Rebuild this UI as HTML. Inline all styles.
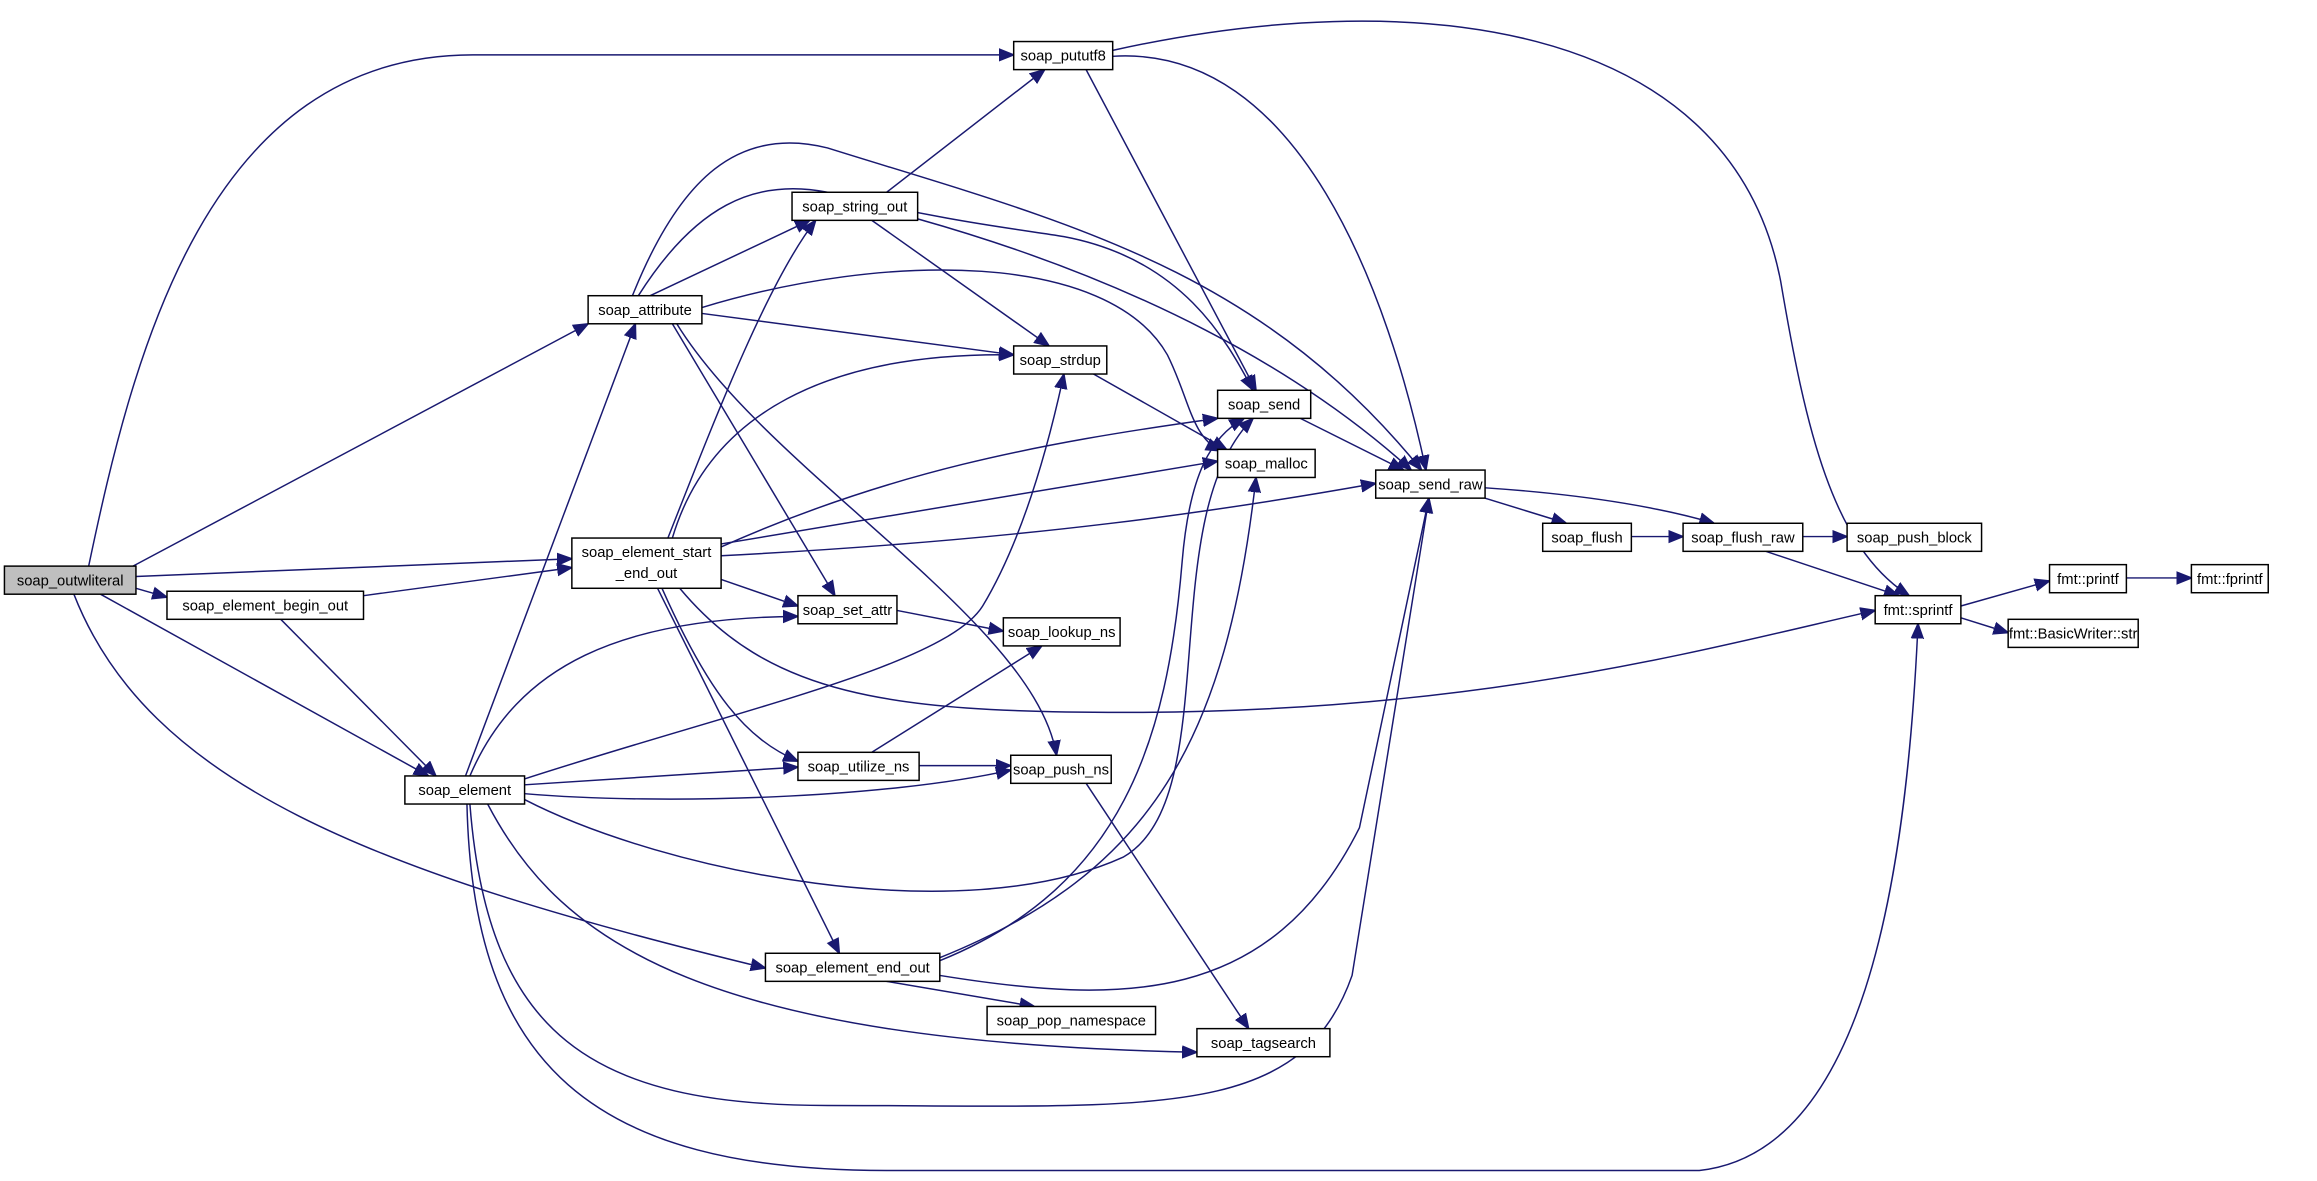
<!DOCTYPE html>
<html><head><meta charset="utf-8"><style>
html,body{margin:0;padding:0;background:#fff;}
svg{display:block;}
text{font-family:"Liberation Sans",sans-serif;font-size:10px;fill:#000;}
.e{fill:none;stroke:#191970;stroke-width:1;}
.n{fill:#fff;stroke:#000;stroke-width:1;}
</style></head><body>
<svg width="2317" height="1181" viewBox="0 0 1568 799" xmlns="http://www.w3.org/2000/svg">
<defs><marker id="a" viewBox="0 0 10 10" refX="10" refY="5" markerWidth="10" markerHeight="10" markerUnits="userSpaceOnUse" orient="auto"><path d="M0,1 L10,5 L0,9 z" fill="#191970" stroke="#191970"/></marker></defs>
<g marker-end="url(#a)">
<path class="e" d="M60,383 C90,240 140,37 320,37 L686,37"/>
<path class="e" d="M90,383 L398,219"/>
<path class="e" d="M92,390 L387,378"/>
<path class="e" d="M92,398 L113,404"/>
<path class="e" d="M68,402 L290,525"/>
<path class="e" d="M50,402 C100,530 250,590 518,655"/>
<path class="e" d="M246,403 L387,384"/>
<path class="e" d="M190,419 L295,525"/>
<path class="e" d="M452,364 C485,280 520,190 552,149"/>
<path class="e" d="M488,370 C600,320 700,300 824,283"/>
<path class="e" d="M488,368 L824,312"/>
<path class="e" d="M488,376 C700,365 830,345 931,327"/>
<path class="e" d="M455,364 C480,280 560,238 686,240"/>
<path class="e" d="M488,392 L540,410"/>
<path class="e" d="M448,398 C480,470 505,500 540,515"/>
<path class="e" d="M445,398 L568,645"/>
<path class="e" d="M460,398 C520,470 600,482 760,482 C1000,482 1150,440 1269,413"/>
<path class="e" d="M315,525 L430,219"/>
<path class="e" d="M318,525 C350,450 420,418 540,417"/>
<path class="e" d="M355,527 C500,480 640,450 665,410 C695,360 712,290 720,253"/>
<path class="e" d="M355,531 L540,519"/>
<path class="e" d="M355,537 C450,545 600,540 684,521"/>
<path class="e" d="M355,541 C450,590 650,630 760,580 C830,540 780,350 848,283"/>
<path class="e" d="M330,544 C380,640 480,705 810,712"/>
<path class="e" d="M318,544 C330,700 400,748 560,748 C780,748 880,760 915,660 L967,337"/>
<path class="e" d="M316,544 C320,720 400,792 600,792 L1150,792 C1260,780 1290,600 1298,422"/>
<path class="e" d="M440,200 L548,149"/>
<path class="e" d="M428,200 C460,120 500,85 560,100 C720,150 850,180 962,318"/>
<path class="e" d="M432,200 C470,140 510,120 560,130 C640,150 690,155 720,160 C800,175 830,230 848,264"/>
<path class="e" d="M475,208 C600,170 750,170 790,240 C805,270 806,295 826,305"/>
<path class="e" d="M475,212 L686,240"/>
<path class="e" d="M455,219 L565,403"/>
<path class="e" d="M458,219 C520,320 700,420 715,511"/>
<path class="e" d="M600,130 L707,47"/>
<path class="e" d="M590,149 L710,234"/>
<path class="e" d="M621,148 C770,190 880,250 955,318"/>
<path class="e" d="M753,38 C880,30 940,200 965,318"/>
<path class="e" d="M735,47 L850,264"/>
<path class="e" d="M753,34 C950,-10 1170,10 1205,190 C1222,290 1240,370 1292,403"/>
<path class="e" d="M740,253 L830,304"/>
<path class="e" d="M880,283 L950,318"/>
<path class="e" d="M1005,337 L1060,354"/>
<path class="e" d="M1005,330 C1080,335 1130,345 1160,354"/>
<path class="e" d="M1104,363 L1139,363"/>
<path class="e" d="M1220,363 L1250,363"/>
<path class="e" d="M1195,373 L1285,403"/>
<path class="e" d="M607,413 L679,427"/>
<path class="e" d="M590,509 L705,437"/>
<path class="e" d="M622,518 L684,518"/>
<path class="e" d="M735,530 L845,696"/>
<path class="e" d="M636,650 C760,600 790,500 800,380 C805,320 820,295 842,283"/>
<path class="e" d="M636,660 C760,680 860,680 920,560 L967,337"/>
<path class="e" d="M636,648 C780,590 830,500 850,323"/>
<path class="e" d="M600,664 L700,681"/>
<path class="e" d="M1327,410 L1387,393"/>
<path class="e" d="M1327,418 L1359,428"/>
<path class="e" d="M1439,391 L1483,391"/>
</g>
<g>
<rect x="3" y="383" width="89" height="19" fill="#bfbfbf" stroke="#000"/><text x="47.5" y="396" text-anchor="middle">soap_outwliteral</text>
<rect class="n" x="113" y="400" width="133" height="19"/><text x="179.5" y="413" text-anchor="middle">soap_element_begin_out</text>
<rect class="n" x="387" y="364" width="101" height="34"/><text x="437.5" y="377" text-anchor="middle">soap_element_start</text><text x="437.5" y="391" text-anchor="middle">_end_out</text>
<rect class="n" x="274" y="525" width="81" height="19"/><text x="314.5" y="538" text-anchor="middle">soap_element</text>
<rect class="n" x="398" y="200" width="77" height="19"/><text x="436.5" y="213" text-anchor="middle">soap_attribute</text>
<rect class="n" x="536" y="130" width="85" height="19"/><text x="578.5" y="143" text-anchor="middle">soap_string_out</text>
<rect class="n" x="686" y="28" width="67" height="19"/><text x="719.5" y="41" text-anchor="middle">soap_pututf8</text>
<rect class="n" x="686" y="234" width="63" height="19"/><text x="717.5" y="247" text-anchor="middle">soap_strdup</text>
<rect class="n" x="824" y="264" width="63" height="19"/><text x="855.5" y="277" text-anchor="middle">soap_send</text>
<rect class="n" x="824" y="304" width="66" height="19"/><text x="857" y="317" text-anchor="middle">soap_malloc</text>
<rect class="n" x="931" y="318" width="74" height="19"/><text x="968" y="331" text-anchor="middle">soap_send_raw</text>
<rect class="n" x="540" y="403" width="67" height="19"/><text x="573.5" y="416" text-anchor="middle">soap_set_attr</text>
<rect class="n" x="679" y="418" width="79" height="19"/><text x="718.5" y="431" text-anchor="middle">soap_lookup_ns</text>
<rect class="n" x="540" y="509" width="82" height="19"/><text x="581" y="522" text-anchor="middle">soap_utilize_ns</text>
<rect class="n" x="684" y="511" width="68" height="19"/><text x="718" y="524" text-anchor="middle">soap_push_ns</text>
<rect class="n" x="518" y="645" width="118" height="19"/><text x="577" y="658" text-anchor="middle">soap_element_end_out</text>
<rect class="n" x="668" y="681" width="114" height="19"/><text x="725" y="694" text-anchor="middle">soap_pop_namespace</text>
<rect class="n" x="810" y="696" width="90" height="19"/><text x="855" y="709" text-anchor="middle">soap_tagsearch</text>
<rect class="n" x="1044" y="354" width="60" height="19"/><text x="1074" y="367" text-anchor="middle">soap_flush</text>
<rect class="n" x="1139" y="354" width="81" height="19"/><text x="1179.5" y="367" text-anchor="middle">soap_flush_raw</text>
<rect class="n" x="1250" y="354" width="91" height="19"/><text x="1295.5" y="367" text-anchor="middle">soap_push_block</text>
<rect class="n" x="1269" y="403" width="58" height="19"/><text x="1298" y="416" text-anchor="middle">fmt::sprintf</text>
<rect class="n" x="1387" y="382" width="52" height="19"/><text x="1413" y="395" text-anchor="middle">fmt::printf</text>
<rect class="n" x="1483" y="382" width="52" height="19"/><text x="1509" y="395" text-anchor="middle">fmt::fprintf</text>
<rect class="n" x="1359" y="419" width="88" height="19"/><text x="1403" y="432" text-anchor="middle">fmt::BasicWriter::str</text>
</g>
</svg>
</body></html>
